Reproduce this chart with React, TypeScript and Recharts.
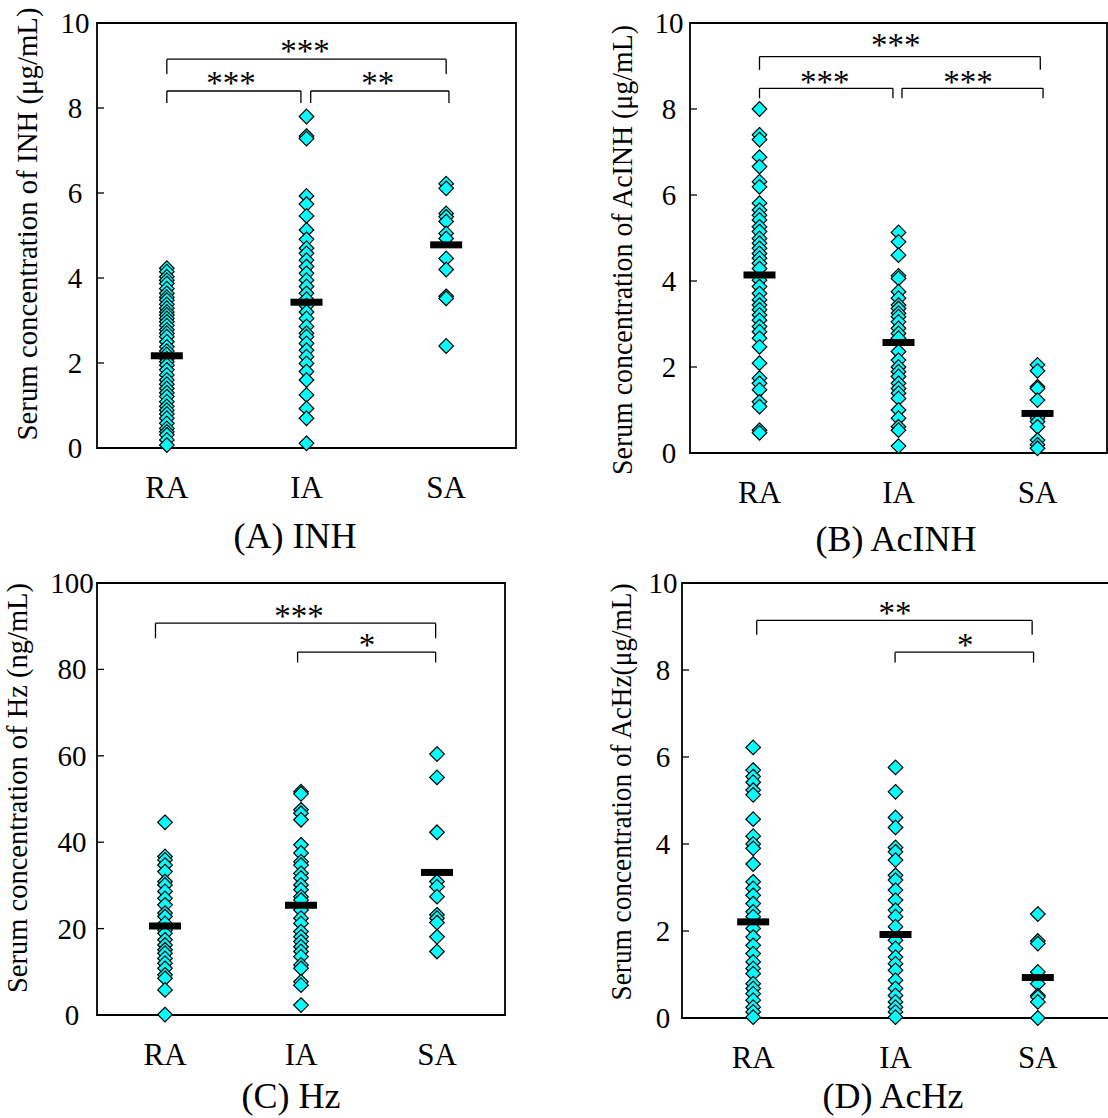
import React from 'react';
import { ScatterChart, Scatter, XAxis, YAxis, ReferenceLine, ReferenceArea } from 'recharts';

const groups = ['RA', 'IA', 'SA'];
const groupX = [0.5, 1.5, 2.5];

// (A) INH, μg/mL
const inhRA = [4.23, 4.15, 4.03, 3.95, 3.87, 3.75, 3.64, 3.55, 3.48, 3.38, 3.29, 3.2, 3.13, 3.05, 2.97, 2.88, 2.78, 2.7, 2.62, 2.5, 2.38, 2.28, 2.2, 2.1, 2.03, 1.95, 1.84, 1.72, 1.6, 1.5, 1.4, 1.3, 1.21, 1.09, 0.98, 0.89, 0.8, 0.7, 0.58, 0.46, 0.38, 0.31, 0.19, 0.07];
const inhIA = [7.8, 7.34, 7.28, 5.93, 5.74, 5.46, 5.13, 4.91, 4.7, 4.58, 4.42, 4.27, 4.11, 3.95, 3.8, 3.64, 3.5, 3.35, 3.2, 3.05, 2.86, 2.7, 2.62, 2.46, 2.3, 2.15, 1.99, 1.8, 1.6, 1.25, 0.93, 0.7, 0.11];
const inhSA = [6.22, 6.11, 5.52, 5.44, 5.33, 5.05, 4.93, 4.46, 4.2, 3.57, 3.52, 2.4];
const inhMeans = [2.17, 3.43, 4.78];

// (B) AcINH, μg/mL
const acinhRA = [8.0, 7.4, 7.29, 6.88, 6.66, 6.31, 6.19, 5.81, 5.65, 5.53, 5.42, 5.26, 5.15, 4.99, 4.88, 4.76, 4.64, 4.53, 4.41, 4.29, 4.02, 3.87, 3.71, 3.56, 3.44, 3.33, 3.21, 3.09, 2.94, 2.82, 2.67, 2.47, 2.09, 1.74, 1.62, 1.47, 1.19, 1.08, 0.53, 0.47];
const acinhIA = [5.13, 4.91, 4.6, 4.12, 4.06, 3.75, 3.6, 3.44, 3.36, 3.25, 3.17, 3.05, 2.9, 2.78, 2.67, 2.36, 2.16, 2.0, 1.89, 1.78, 1.62, 1.5, 1.39, 1.27, 1.0, 0.81, 0.61, 0.53, 0.16];
const acinhSA = [2.05, 1.91, 1.54, 1.5, 1.23, 0.81, 0.73, 0.61, 0.3, 0.19, 0.11];
const acinhMeans = [4.14, 2.57, 0.92];

// (C) Hz, ng/mL
const hzRA = [44.6, 36.7, 35.9, 34.7, 33.2, 30.9, 30.1, 28.6, 27.0, 25.5, 23.6, 22.8, 21.2, 19.7, 18.9, 17.4, 16.2, 15.1, 14.3, 13.1, 12.0, 10.8, 9.3, 8.5, 5.8, 0.1];
const hzIA = [51.7, 51.2, 47.5, 46.7, 45.2, 39.4, 37.5, 35.5, 34.7, 32.8, 31.7, 30.1, 29.0, 27.4, 26.6, 24.3, 22.4, 21.2, 19.3, 18.1, 17.0, 15.8, 14.7, 13.5, 11.6, 10.8, 7.7, 6.9, 2.3];
const hzSA = [60.4, 55.0, 42.3, 30.9, 29.7, 27.4, 23.2, 22.4, 21.4, 18.1, 14.7];
const hzMeans = [20.6, 25.4, 33.0];

// (D) AcHz, μg/mL
const achzRA = [6.22, 5.7, 5.55, 5.42, 5.24, 5.13, 4.57, 4.18, 4.0, 3.9, 3.54, 3.13, 2.98, 2.82, 2.63, 2.44, 2.33, 2.06, 1.86, 1.67, 1.48, 1.29, 1.14, 1.02, 0.79, 0.68, 0.56, 0.41, 0.25, 0.14, 0.02];
const achzIA = [5.76, 5.2, 4.61, 4.38, 3.92, 3.82, 3.63, 3.28, 3.17, 2.94, 2.71, 2.48, 2.33, 2.1, 1.79, 1.6, 1.4, 1.25, 1.1, 0.87, 0.68, 0.52, 0.37, 0.25, 0.14, 0.02];
const achzSA = [2.39, 1.77, 1.71, 1.06, 0.79, 0.52, 0.48, 0.37, 0.0];
const achzMeans = [2.21, 1.92, 0.93];

// Significance brackets: from/to on the group axis, bar height, leg bottom, label and its place
const inhBrackets = [
  { from: 0.5, to: 2.5, y: 9.15, drop: 8.8, stars: '***', sx: 1.49, sy: 9.44 },
  { from: 0.5, to: 1.46, y: 8.4, drop: 8.12, stars: '***', sx: 0.96, sy: 8.68 },
  { from: 1.53, to: 2.52, y: 8.4, drop: 8.12, stars: '**', sx: 2.01, sy: 8.68 },
];
const acinhBrackets = [
  { from: 0.5, to: 2.52, y: 9.22, drop: 8.91, stars: '***', sx: 1.48, sy: 9.57 },
  { from: 0.5, to: 1.46, y: 8.48, drop: 8.25, stars: '***', sx: 0.97, sy: 8.73 },
  { from: 1.525, to: 2.54, y: 8.48, drop: 8.25, stars: '***', sx: 2.0, sy: 8.73 },
];
const hzBrackets = [
  { from: 0.43, to: 2.49, y: 90.7, drop: 87.2, stars: '***', sx: 1.485, sy: 93.4 },
  { from: 1.475, to: 2.49, y: 84.0, drop: 81.6, stars: '*', sx: 1.985, sy: 86.6 },
];
const achzBrackets = [
  { from: 0.525, to: 2.46, y: 9.14, drop: 8.81, stars: '**', sx: 1.497, sy: 9.4 },
  { from: 1.497, to: 2.47, y: 8.41, drop: 8.17, stars: '*', sx: 1.99, sy: 8.67 },
];

const tenTicks = [0, 2, 4, 6, 8, 10];
const hundredTicks = [0, 20, 40, 60, 80, 100];

const FONT = '"Liberation Serif", "Times New Roman", serif';

const panels = [
  {
    title: '(A) INH', yLabel: 'Serum concentration of INH (μg/mL)',
    series: [inhRA, inhIA, inhSA], means: inhMeans, yMax: 10, yTicks: tenTicks, brackets: inhBrackets,
    box: { left: 97, top: 23, right: 516, bottom: 448 }, tickOff: 22,
    yl: { x: 37, cy: 224, len: 433 }, tl: { x: 295, y: 548 },
  },
  {
    title: '(B) AcINH', yLabel: 'Serum concentration of AcINH (μg/mL)',
    series: [acinhRA, acinhIA, acinhSA], means: acinhMeans, yMax: 10, yTicks: tenTicks, brackets: acinhBrackets,
    box: { left: 690, top: 23, right: 1107, bottom: 453 }, tickOff: 21,
    yl: { x: 632, cy: 250, len: 450 }, tl: { x: 896, y: 551 },
  },
  {
    title: '(C) Hz', yLabel: 'Serum concentration of Hz (ng/mL)',
    series: [hzRA, hzIA, hzSA], means: hzMeans, yMax: 100, yTicks: hundredTicks, brackets: hzBrackets,
    box: { left: 97, top: 583, right: 505, bottom: 1015 }, tickOff: 25,
    yl: { x: 27, cy: 788, len: 410 }, tl: { x: 291, y: 1108 },
  },
  {
    title: '(D) AcHz', yLabel: 'Serum concentration of AcHz(μg/mL)',
    series: [achzRA, achzIA, achzSA], means: achzMeans, yMax: 10, yTicks: tenTicks, brackets: achzBrackets,
    box: { left: 682, top: 583, right: 1109, bottom: 1018 }, tickOff: 19,
    yl: { x: 631, cy: 792, len: 417 }, tl: { x: 893, y: 1108 },
  },
];

const Diamond = (p: any) => {
  const { cx, cy } = p;
  const r = 7.3;
  return (
    <polygon
      points={`${cx},${cy - r} ${cx + r},${cy} ${cx},${cy + r} ${cx - r},${cy}`}
      fill="#00FFFF"
      stroke="#000"
      strokeWidth={1.2}
    />
  );
};

const MeanBar = (p: any) => <rect x={p.cx - 16} y={p.cy - 3.5} width={32} height={7} fill="#000" />;

const Stars = (p: any) => (
  <text x={p.cx} y={p.cy + 15} textAnchor="middle" fontFamily={FONT} fontSize={33} fill="#000">
    {p.payload.t}
  </text>
);

function Panel({ cfg }: { cfg: any }) {
  const { box } = cfg;
  const W = box.right + 20;
  const H = box.bottom + 130;
  const yAxisW = 60;
  const xAxisH = 60;
  const margin = { top: box.top, left: box.left - yAxisW, right: W - box.right, bottom: H - box.bottom - xAxisH };

  const pts = cfg.series.map((vals: number[], i: number) => vals.map((v) => ({ x: groupX[i], y: v })));
  const means = cfg.means.map((m: number, i: number) => ({ x: groupX[i], y: m }));
  const stars = cfg.brackets.map((b: any) => ({ x: b.sx, y: b.sy, t: b.stars }));

  const yTick = (p: any) => (
    <g>
      <line x1={box.left} x2={box.left + 7} y1={p.y} y2={p.y} stroke="#000" strokeWidth={1.3} />
      <text x={box.left - cfg.tickOff} y={p.y} textAnchor="middle" dominantBaseline="central" fontFamily={FONT} fontSize={29} fill="#000">
        {p.payload.value}
      </text>
    </g>
  );
  const xTick = (p: any) => (
    <text x={p.x} y={box.bottom + 50} textAnchor="middle" fontFamily={FONT} fontSize={31} fill="#000">
      {groups[Math.floor(p.payload.value)]}
    </text>
  );

  return (
    <div style={{ position: 'absolute', left: 0, top: 0 }}>
      <ScatterChart width={W} height={H} margin={margin}>
        <XAxis type="number" dataKey="x" domain={[0, 3]} ticks={groupX} interval={0} axisLine={false} tickLine={false} height={xAxisH} tick={xTick} />
        <YAxis type="number" dataKey="y" domain={[0, cfg.yMax]} ticks={cfg.yTicks} interval={0} axisLine={false} tickLine={false} width={yAxisW} tick={yTick} />
        <ReferenceArea x1={0} x2={3} y1={0} y2={cfg.yMax} fill="none" stroke="#000" strokeWidth={1.8} ifOverflow="visible" />
        {cfg.brackets.map((b: any, i: number) => (
          <ReferenceLine key={`h${i}`} segment={[{ x: b.from, y: b.y }, { x: b.to, y: b.y }]} stroke="#000" strokeWidth={1.3} />
        ))}
        {cfg.brackets.map((b: any, i: number) => (
          <ReferenceLine key={`l${i}`} segment={[{ x: b.from, y: b.y }, { x: b.from, y: b.drop }]} stroke="#000" strokeWidth={1.3} />
        ))}
        {cfg.brackets.map((b: any, i: number) => (
          <ReferenceLine key={`r${i}`} segment={[{ x: b.to, y: b.y }, { x: b.to, y: b.drop }]} stroke="#000" strokeWidth={1.3} />
        ))}
        {pts.map((d: any[], i: number) => (
          <Scatter key={`s${i}`} data={d} shape={Diamond} isAnimationActive={false} />
        ))}
        <Scatter data={means} shape={MeanBar} isAnimationActive={false} />
        <Scatter data={stars} shape={Stars} isAnimationActive={false} />
      </ScatterChart>
    </div>
  );
}

export default function App() {
  return (
    <div style={{ position: 'fixed', left: 0, top: 0, width: 1108, height: 1118, overflow: 'hidden', background: '#fff' }}>
      {panels.map((cfg, i) => (
        <Panel key={i} cfg={cfg} />
      ))}
      <svg width={1108} height={1118} style={{ position: 'absolute', left: 0, top: 0, pointerEvents: 'none' }}>
        {panels.map((cfg, i) => (
          <g key={i} fontFamily={FONT} fill="#000">
            <text
              x={cfg.yl.x}
              y={cfg.yl.cy}
              transform={`rotate(-90 ${cfg.yl.x} ${cfg.yl.cy})`}
              textAnchor="middle"
              fontSize={29}
              textLength={cfg.yl.len}
              lengthAdjust="spacingAndGlyphs"
            >
              {cfg.yLabel}
            </text>
            <text x={cfg.tl.x} y={cfg.tl.y} textAnchor="middle" fontSize={36}>
              {cfg.title}
            </text>
          </g>
        ))}
      </svg>
    </div>
  );
}
